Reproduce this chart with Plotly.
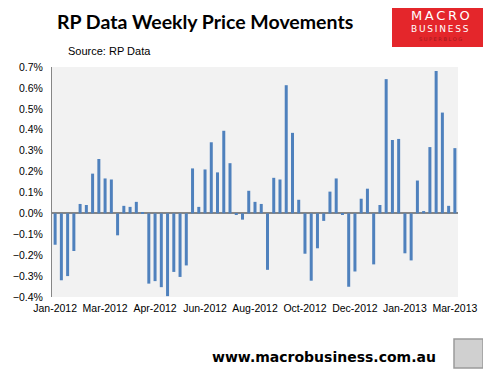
import plotly.graph_objects as go

# Weekly price movement (%), Jan-2012 .. Mar-2013
weekly_change = [
    -0.15, -0.32, -0.30, -0.18, 0.045, 0.04, 0.19, 0.26, 0.167, 0.162,
    -0.105, 0.036, 0.031, 0.055, 0.006, -0.336, -0.324, -0.353, -0.396, -0.28,
    -0.304, -0.249, 0.215, 0.031, 0.21, 0.34, 0.196, 0.395, 0.24, -0.006,
    -0.03, 0.108, 0.055, 0.045, -0.27, 0.17, 0.162, 0.613, 0.385, 0.065,
    -0.193, -0.322, -0.167, -0.036, 0.104, 0.167, -0.006, -0.351, -0.278, 0.07,
    0.118, -0.244, 0.04, 0.642, 0.351, 0.356, -0.191, -0.225, 0.157, 0.011,
    0.317, 0.681, 0.482, 0.036, 0.312,
]
week_index = list(range(len(weekly_change)))

tick_positions = [0, 8, 16, 24, 32, 40, 48, 56, 64]
tick_labels = ["Jan-2012", "Mar-2012", "Apr-2012", "Jun-2012", "Aug-2012",
               "Oct-2012", "Dec-2012", "Jan-2013", "Mar-2013"]

title_text = "RP Data Weekly Price Movements"
source_text = "Source: RP Data"
footer_text = "www.macrobusiness.com.au"

# page body has an 8px margin; compensate
OFF = 8
W, H = 491 - OFF, 373 - OFF
PL, PR, PT, PB = 52, 458, 67, 297  # plot area in window pixels

TICK_FONT = "Liberation Sans, Arial, sans-serif"

fig = go.Figure()
fig.add_trace(go.Bar(
    x=week_index, y=weekly_change,
    marker=dict(color="#4F81BD", line=dict(width=0)),
    hoverinfo="y",
))

fig.update_layout(
    width=W, height=H,
    margin=dict(l=PL - OFF, r=491 - PR, t=PT - OFF, b=373 - PB, autoexpand=False),
    paper_bgcolor="white",
    plot_bgcolor="#F2F2F2",
    bargap=0.52,
    showlegend=False,
    font=dict(family=TICK_FONT, size=11, color="#000000"),
    xaxis=dict(
        range=[-0.5, 64.5],
        tickmode="array", tickvals=tick_positions, ticktext=tick_labels,
        showgrid=False, zeroline=False, showline=False,
        ticks="", ticklabelstandoff=3, tickangle=0,
        tickfont=dict(size=10.5),
        automargin=False,
        fixedrange=True,
    ),
    yaxis=dict(
        range=[-0.4, 0.7], dtick=0.1, tick0=0,
        tickformat=".1f", ticksuffix="%",
        showgrid=False,
        zeroline=True, zerolinecolor="#868686", zerolinewidth=1.5,
        showline=True, linecolor="#868686", linewidth=1,
        ticks="", ticklabelstandoff=6,
        tickfont=dict(size=10.5),
        automargin=False,
        fixedrange=True,
    ),
)


def px(xp):
    return (xp - PL) / (PR - PL)


def py(yp):
    return (PB - yp) / (PB - PT)


# Title
fig.add_annotation(text="<b>" + title_text + "</b>", xref="paper", yref="paper",
                   x=px(205), y=py(21), showarrow=False, xanchor="center", yanchor="middle",
                   font=dict(family="Lato, Liberation Sans, sans-serif", size=19.5, color="#000000"))
# Source
fig.add_annotation(text=source_text, xref="paper", yref="paper",
                   x=px(66), y=py(51), showarrow=False, xanchor="left", yanchor="middle",
                   font=dict(family=TICK_FONT, size=11, color="#000000"))
# Footer
fig.add_annotation(text="<b>" + footer_text + "</b>", xref="paper", yref="paper",
                   x=px(324), y=py(357), showarrow=False, xanchor="center", yanchor="middle",
                   font=dict(family="DejaVu Sans, sans-serif", size=14, color="#000000"))

# Logo box
fig.add_shape(type="rect", xref="paper", yref="paper",
              x0=px(392), x1=px(487), y0=py(47), y1=py(5),
              fillcolor="#E4262B", line=dict(width=0), layer="above")
fig.add_annotation(text="M\u2009A\u2009C\u2009R\u2009O", xref="paper", yref="paper",
                   x=px(440), y=py(16), showarrow=False, xanchor="center", yanchor="middle",
                   font=dict(family="DejaVu Sans, sans-serif", size=13, color="#FFFFFF"))
fig.add_annotation(text="B\u2009U\u2009S\u2009I\u2009N\u2009E\u2009S\u2009S", xref="paper", yref="paper",
                   x=px(440), y=py(29), showarrow=False, xanchor="center", yanchor="middle",
                   font=dict(family="DejaVu Sans, sans-serif", size=9, color="#FFFFFF"))
fig.add_annotation(text="S U P E R B L O G", xref="paper", yref="paper",
                   x=px(440), y=py(39), showarrow=False, xanchor="center", yanchor="middle",
                   font=dict(family="DejaVu Sans, sans-serif", size=5, color="#9E1A1E"))

# Wolf icon placeholder box
fig.add_shape(type="rect", xref="paper", yref="paper",
              x0=px(454), x1=px(483), y0=py(368), y1=py(339),
              fillcolor="#D0D0D0", line=dict(width=1.5, color="#9A9A9A"), layer="above")

fig.write_html("out.html")
